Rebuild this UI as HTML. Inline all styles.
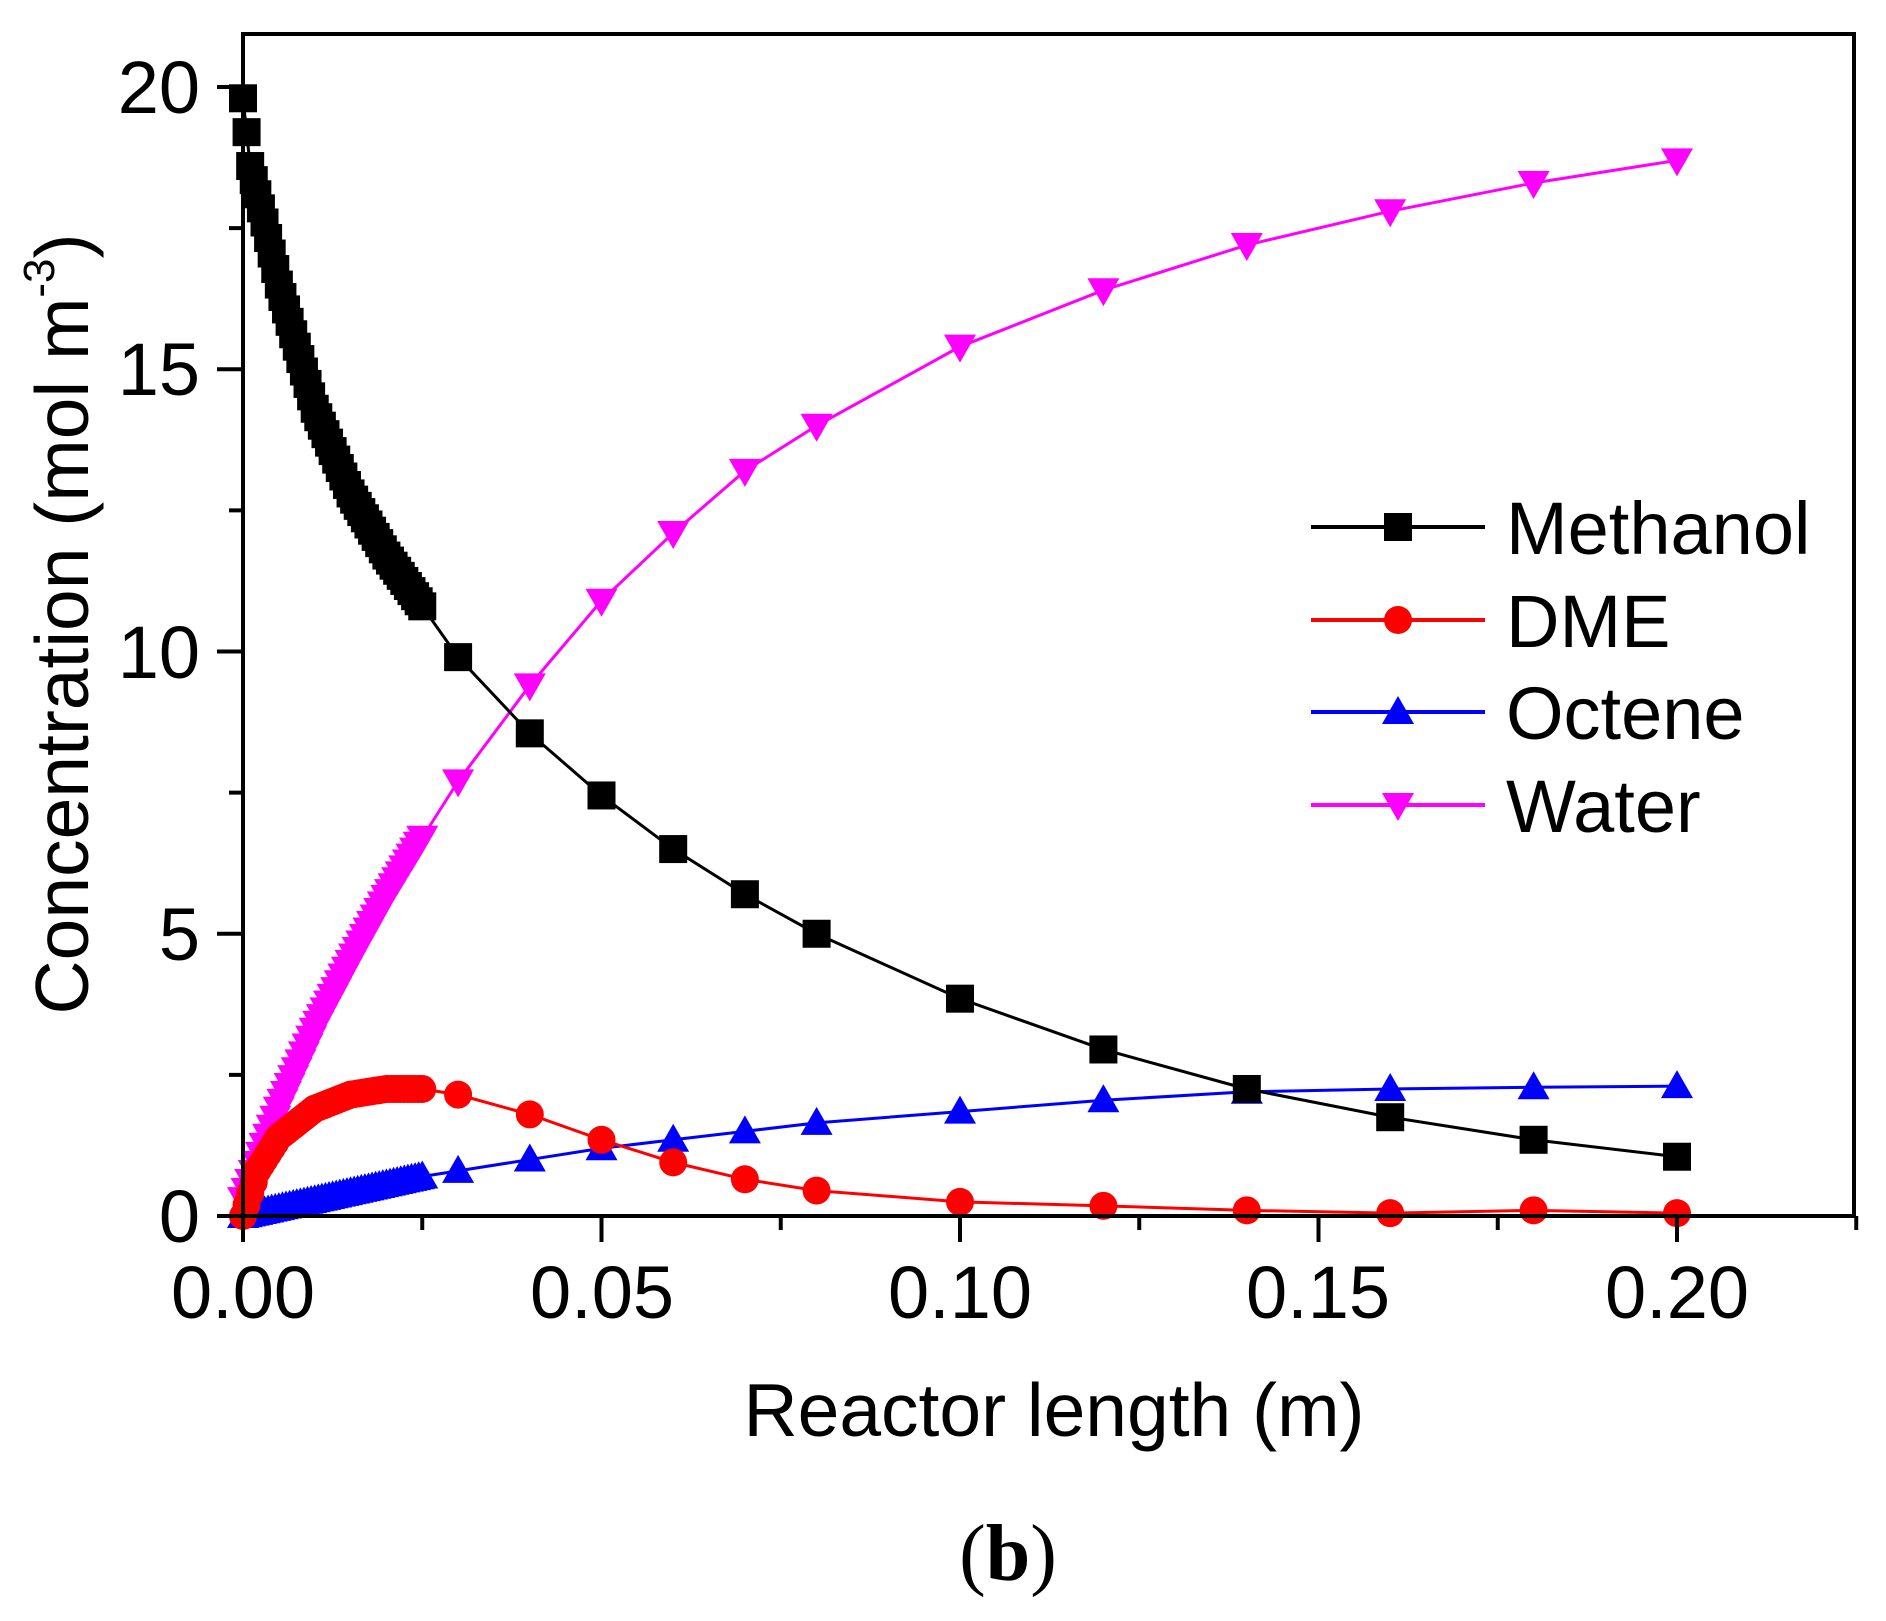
<!DOCTYPE html>
<html><head><meta charset="utf-8"><style>
html,body{margin:0;padding:0;background:#fff;}
svg{display:block;}
text{font-family:"Liberation Sans",sans-serif;fill:#000;}
</style></head><body>
<svg id="s" width="1886" height="1621" viewBox="0 0 1886 1621" xmlns="http://www.w3.org/2000/svg">
<rect width="1886" height="1621" fill="#fff"/>
<g id="plot"></g>
<rect x="243" y="34" width="1611" height="1182" fill="none" stroke="#000" stroke-width="4"/>
<g stroke="#000" stroke-width="4" id="ticks"></g>
<g font-size="74" text-anchor="end">
<text x="200" y="1242">0</text>
<text x="200" y="960">5</text>
<text x="200" y="678">10</text>
<text x="200" y="395">15</text>
<text x="200" y="113">20</text>
</g>
<g font-size="74" text-anchor="middle">
<text x="243" y="1318">0.00</text>
<text x="602" y="1318">0.05</text>
<text x="960" y="1318">0.10</text>
<text x="1318" y="1318">0.15</text>
<text x="1677" y="1318">0.20</text>
</g>
<text x="1054" y="1436" font-size="75" text-anchor="middle">Reactor length (m)</text>
<text transform="translate(88,624) rotate(-90)" font-size="75" text-anchor="middle">Concentration (mol m<tspan font-size="44" dy="-34">-3</tspan><tspan dy="34">)</tspan></text>
<text x="1008" y="1580" font-size="80" text-anchor="middle" style="font-family:'Liberation Serif',serif">(<tspan font-weight="bold">b</tspan>)</text>
<g id="legend"></g>
</svg>
<script>
const X0=243,XS=7170,Y0=1216,YS=56.45;
const px=x=>X0+x*XS, py=y=>Y0-y*YS;
function interp(a,x){for(let i=0;i<a.length-1;i++){if(x>=a[i][0]&&x<=a[i+1][0]){const t=(x-a[i][0])/(a[i+1][0]-a[i][0]);return a[i][1]+t*(a[i+1][1]-a[i][1]);}}return a[a.length-1][1];}
const M=[[0,19.8],[0.001,18.6],[0.003,17.6],[0.005,16.5],[0.01,14.3],[0.015,12.8],[0.02,11.7],[0.025,10.8],[0.03,9.9],[0.04,8.55],[0.05,7.45],[0.06,6.5],[0.07,5.7],[0.08,5.0],[0.10,3.85],[0.12,2.95],[0.14,2.25],[0.16,1.75],[0.18,1.35],[0.20,1.05]];
const D=[[0,0],[0.002,0.8],[0.005,1.4],[0.01,1.9],[0.015,2.15],[0.02,2.25],[0.025,2.25],[0.03,2.15],[0.04,1.8],[0.05,1.35],[0.06,0.95],[0.07,0.65],[0.08,0.45],[0.10,0.25],[0.12,0.18],[0.14,0.1],[0.16,0.05],[0.18,0.1],[0.20,0.05]];
const O=[[0,0],[0.025,0.7],[0.03,0.8],[0.04,1.0],[0.05,1.2],[0.06,1.35],[0.07,1.5],[0.08,1.65],[0.10,1.85],[0.12,2.05],[0.14,2.2],[0.16,2.25],[0.18,2.28],[0.20,2.3]];
const W=[[0,0.3],[0.005,1.9],[0.01,3.3],[0.015,4.5],[0.02,5.65],[0.025,6.7],[0.03,7.7],[0.04,9.4],[0.05,10.9],[0.06,12.1],[0.07,13.2],[0.08,14.0],[0.10,15.4],[0.12,16.4],[0.14,17.2],[0.16,17.8],[0.18,18.3],[0.20,18.7]];
const xs=[];for(let i=0;i<=50;i++)xs.push(i*0.0005);
[0.03,0.04,0.05,0.06,0.07,0.08,0.10,0.12,0.14,0.16,0.18,0.20].forEach(v=>xs.push(v));
function mark(t,x,y,c){const s=14;
 if(t=='s')return `<rect x="${x-s}" y="${y-s}" width="${2*s}" height="${2*s}" fill="${c}"/>`;
 if(t=='c')return `<circle cx="${x}" cy="${y}" r="${s}" fill="${c}"/>`;
 if(t=='u')return `<polygon points="${x},${y-s-2} ${x-s-2},${y+s-2} ${x+s+2},${y+s-2}" fill="${c}"/>`;
 return `<polygon points="${x},${y+s+2} ${x-s-2},${y-s+2} ${x+s+2},${y-s+2}" fill="${c}"/>`;}
let h='';
const series=[[W,'#ff00ff','d'],[O,'#0000ff','u'],[D,'#ff0000','c'],[M,'#000000','s']];
series.forEach(([a,c,t])=>{
 let pts=xs.map(x=>[px(x),py(interp(a,x))]);
 h+=`<polyline points="${pts.map(p=>p.join(',')).join(' ')}" fill="none" stroke="${c}" stroke-width="3"/>`;
 pts.forEach(p=>h+=mark(t,p[0],p[1],c));
});
document.getElementById('plot').innerHTML=h;
let tk='';
for(let i=0;i<=8;i++){const y=py(i*2.5);tk+=`<line x1="${i%2?229:217}" y1="${y}" x2="243" y2="${y}"/>`;}
for(let i=0;i<=9;i++){const x=px(i*0.025);tk+=`<line x1="${x}" y1="1216" x2="${x}" y2="${i%2?1230:1242}"/>`;}
document.getElementById('ticks').innerHTML=tk;
let lg='';
[['Methanol','#000','s',527],['DME','#ff0000','c',620],['Octene','#0000ff','u',712],['Water','#ff00ff','d',805]].forEach(([n,c,t,y])=>{
 lg+=`<line x1="1311" y1="${y}" x2="1485" y2="${y}" stroke="${c}" stroke-width="4"/>`+mark(t,1398,y,c)+`<text x="1506" y="${y+27}" font-size="74">${n}</text>`;});
document.getElementById('legend').innerHTML=lg;
</script>
</body></html>
